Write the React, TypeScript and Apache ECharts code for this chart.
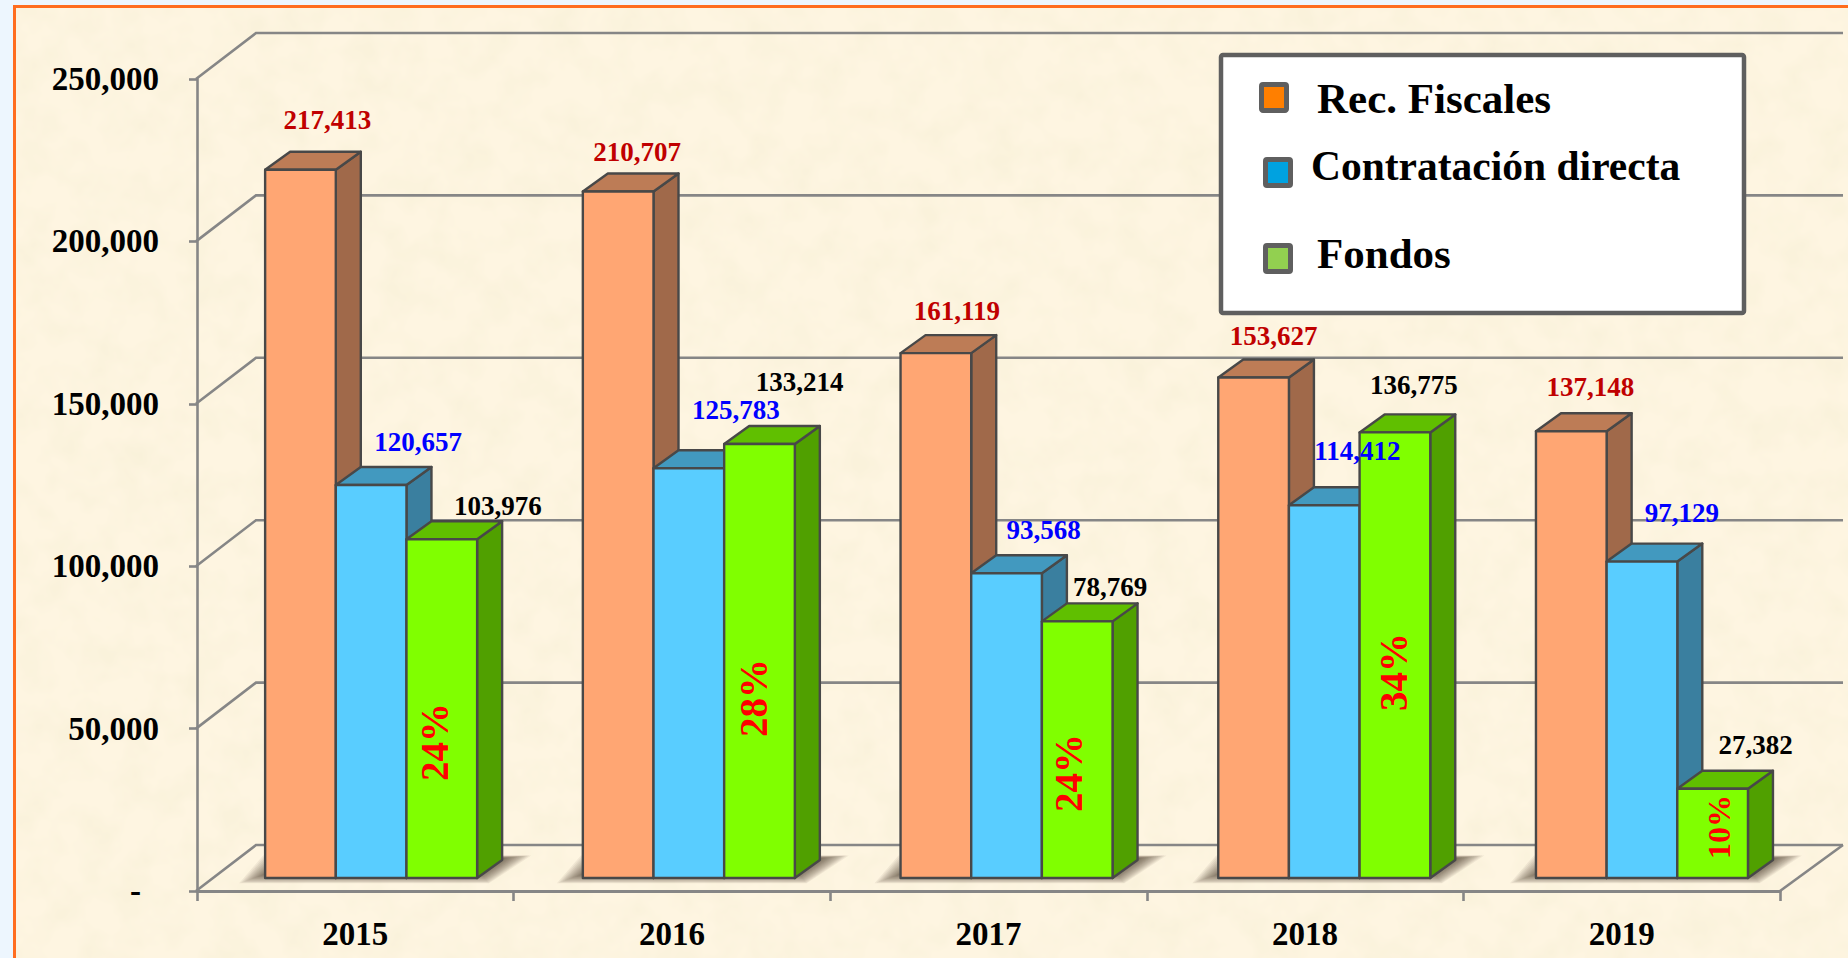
import React, { useEffect, useRef } from "react";
import * as echarts from "echarts";

const years = ["2015", "2016", "2017", "2018", "2019"];
const seriesNames = ["Rec. Fiscales", "Contratación directa", "Fondos"];
const recFiscales = [217413, 210707, 161119, 153627, 137148];
const contratacion = [120657, 125783, 93568, 114412, 97129];
const fondos = [103976, 133214, 78769, 136775, 27382];
const fondosPct = ["24%", "28%", "24%", "34%", "10%"];
const yTicks = [0, 50000, 100000, 150000, 200000, 250000];
const yTickLabels = ["-", "50,000", "100,000", "150,000", "200,000", "250,000"];

// label placement relative to bar-front centre / bar top
const recLabelOffsets = [[27, -50], [19, -40], [21, -42], [20, -42], [19, -44]];
const conLabelOffsets = [[47, -43], [47, -58], [37, -43], [33, -54], [40, -49]];
const fonLabelOffsets = [[56, -33], [40, -62], [33, -34], [19, -47], [43, -44]];
const pctCenters = [[-7, 742], [-6, 698], [-9, 773], [-1, 672], [6, 827]];
const pctSizes = [39, 39, 39, 39, 32];

const SERIF = '"Liberation Serif", "DejaVu Serif", serif';
const GRID_GRAY = "#868686";
const EDGE = "#484848";
const DX = 25, DY = -18;
const BACK_X = 59, BACK_Y = -46;
const BASE_LIFT = 13;
const BAR_SCALE = 1.003;

const palettes = [
  { front: "#ffa673", top: "#bd7c56", side: "#a0694a", label: "#c00000" },
  { front: "#59cdff", top: "#4299bf", side: "#3a7f9f", label: "#0000ff" },
  { front: "#80ff00", top: "#60bf00", side: "#50a000", label: "#000000" },
];
const legendFills = ["#ff7f00", "#00a2e0", "#92d050"];
const legendSwatches = [[1259, 82], [1263, 157], [1263, 243]];
const legendTexts = [[1317, 98], [1311, 166], [1317, 253]];
const legendFontSizes = [43, 41.5, 43];
const shadowLayers = [26, 24, 22, 20, 18, 16, 14, 12, 10, 8, 6, 4, 2, 0];

const texture =
  "data:image/svg+xml," +
  encodeURIComponent(
    `<svg xmlns="http://www.w3.org/2000/svg" width="1848" height="958"><filter id="n" x="0" y="0" width="100%" height="100%"><feTurbulence type="fractalNoise" baseFrequency="0.03" numOctaves="3" seed="7"/><feColorMatrix values="0 0 0 0 0.93  0 0 0 0 0.87  0 0 0 0 0.68  1.3 0 0 0 -0.48"/></filter><rect width="1848" height="958" fill="#fef5e1"/><rect width="1848" height="958" filter="url(#n)"/></svg>`
  );

function barGeom(api: any, seriesIndex: number) {
  const cat = api.value(0);
  const val = api.value(1);
  const size = api.size([1, 0])[0];
  const w = size * 0.2232;
  const base = api.coord([cat, 0]);
  const topPt = api.coord([cat, val]);
  const groupLeft = base[0] + size * (0.05 + cat * 0.0035) - 1.5 * w;
  const x0 = groupLeft + seriesIndex * w;
  const x1 = x0 + w;
  const y1 = base[1] - BASE_LIFT;
  const y0 = y1 - (base[1] - topPt[1]) * BAR_SCALE;
  return { x0, x1, y0, y1, val };
}

function barRenderer(seriesIndex: number) {
  const pal = palettes[seriesIndex];
  return (_params: any, api: any) => {
    const { x0, x1, y0, y1 } = barGeom(api, seriesIndex);
    const common = { stroke: EDGE, lineWidth: 2.4, lineJoin: "round" };
    return {
      type: "group",
      children: [
        {
          type: "polygon",
          silent: true,
          shape: { points: [[x1, y0], [x1 + DX, y0 + DY], [x1 + DX, y1 + DY], [x1, y1]] },
          style: { fill: pal.side, ...common },
        },
        {
          type: "polygon",
          silent: true,
          shape: { points: [[x0, y0], [x0 + DX, y0 + DY], [x1 + DX, y0 + DY], [x1, y0]] },
          style: { fill: pal.top, ...common },
        },
        {
          type: "polygon",
          silent: true,
          shape: { points: [[x0, y0], [x1, y0], [x1, y1], [x0, y1]] },
          style: { fill: pal.front, ...common },
        },
      ],
    };
  };
}

function labelRenderer(seriesIndex: number, offsets: number[][]) {
  const pal = palettes[seriesIndex];
  return (params: any, api: any) => {
    const { x0, x1, y0, val } = barGeom(api, seriesIndex);
    const off = offsets[params.dataIndex];
    const children: any[] = [
      {
        type: "text",
        silent: true,
        x: (x0 + x1) / 2 + off[0],
        y: y0 + off[1],
        style: {
          text: val.toLocaleString("en-US"),
          fill: pal.label,
          font: `bold 27px ${SERIF}`,
          textAlign: "center",
          textVerticalAlign: "middle",
        },
      },
    ];
    if (seriesIndex === 2) {
      const pc = pctCenters[params.dataIndex];
      children.push({
        type: "text",
        silent: true,
        x: (x0 + x1) / 2 + pc[0],
        y: pc[1],
        rotation: Math.PI / 2,
        style: {
          text: fondosPct[params.dataIndex],
          fill: "#ff0000",
          font: `bold ${pctSizes[params.dataIndex]}px ${SERIF}`,
          textAlign: "center",
          textVerticalAlign: "middle",
        },
      });
    }
    return { type: "group", children };
  };
}

function wallRenderer(params: any, api: any) {
  const v = api.value(1);
  const p = api.coord([0, v]);
  const xL = params.coordSys.x;
  const xR = xL + params.coordSys.width;
  const y = p[1];
  const children: any[] = [
    {
      type: "polyline",
      silent: true,
      shape: { points: [[xL - 1, y], [xL + BACK_X, y + BACK_Y], [xR + BACK_X + 4, y + BACK_Y]] },
      style: { fill: "none", stroke: GRID_GRAY, lineWidth: 2.6 },
    },
  ];
  if (v === 0) {
    children.push({
      type: "line",
      silent: true,
      shape: { x1: xR, y1: y, x2: xR + BACK_X + 4, y2: y + BACK_Y },
      style: { stroke: GRID_GRAY, lineWidth: 2.6 },
    });
  }
  return { type: "group", children };
}

function shadowRenderer(_params: any, api: any) {
  const { x0, x1, y1 } = barGeom(api, 0);
  const w = x1 - x0;
  const left = x0;
  const right = x0 + 3 * w;
  const y = y1;
  return {
    type: "group",
    children: shadowLayers.map((g) => ({
      type: "polygon",
      silent: true,
      shape: {
        points: [
          [left - g, y - 4 + g * 0.36],
          [right + 4 + g * 0.3, y - 4 + g * 0.36],
          [right + 28 + g, y - 20 - g * 0.1],
          [left + 24 - g, y - 20 - g * 0.1],
        ],
      },
      style: { fill: "rgba(58,48,34,0.065)" },
    })),
  };
}

export default function App() {
  const ref = useRef<HTMLDivElement>(null);
  useEffect(() => {
    const chart = echarts.init(ref.current!, undefined, { renderer: "svg" });
    const catData = (vals: number[]) => vals.map((v, i) => [i, v]);
    const legendGraphics: any[] = [
      {
        type: "rect",
        z: 100,
        shape: { x: 1221, y: 55, width: 523, height: 258, r: 2 },
        style: { fill: "#ffffff", stroke: "#5f5f5f", lineWidth: 4.5 },
      },
    ];
    seriesNames.forEach((name, i) => {
      legendGraphics.push({
        type: "rect",
        z: 101,
        shape: { x: legendSwatches[i][0] + 2.5, y: legendSwatches[i][1] + 2.5, width: 25, height: 26, r: 1.5 },
        style: { fill: legendFills[i], stroke: "#5f5f5f", lineWidth: 5 },
      });
      legendGraphics.push({
        type: "text",
        z: 101,
        x: legendTexts[i][0],
        y: legendTexts[i][1],
        style: {
          text: name,
          fill: "#000000",
          font: `bold ${legendFontSizes[i]}px ${SERIF}`,
          textAlign: "left",
          textVerticalAlign: "middle",
        },
      });
    });
    const seriesValues = [recFiscales, contratacion, fondos];
    const labelOffsets = [recLabelOffsets, conLabelOffsets, fonLabelOffsets];
    chart.setOption({
      animation: false,
      backgroundColor: "transparent",
      grid: { left: 197, right: 68, top: 79, bottom: 67, containLabel: false },
      xAxis: {
        type: "category",
        data: years,
        boundaryGap: true,
        axisLine: { lineStyle: { color: GRID_GRAY, width: 2.8 } },
        axisTick: { show: true, length: 10, alignWithLabel: false, lineStyle: { color: GRID_GRAY, width: 2.6 } },
        axisLabel: { color: "#000", fontFamily: SERIF, fontWeight: "bold", fontSize: 33, margin: 26, interval: 0 },
      },
      yAxis: {
        type: "value",
        min: 0,
        max: 250000,
        interval: 50000,
        splitLine: { show: false },
        axisLine: { show: true, lineStyle: { color: GRID_GRAY, width: 2.6 } },
        axisTick: { show: true, length: 8, lineStyle: { color: GRID_GRAY, width: 2.6 } },
        axisLabel: {
          color: "#000",
          fontFamily: SERIF,
          fontWeight: "bold",
          fontSize: 33,
          margin: 38,
          formatter: (v: number) => {
            const i = yTicks.indexOf(v);
            return i === 0 ? `{dash|${yTickLabels[0]}}` : yTickLabels[i];
          },
          rich: {
            dash: {
              color: "#000",
              fontFamily: SERIF,
              fontWeight: "bold",
              fontSize: 33,
              padding: [0, 18, 0, 0],
            },
          },
        },
      },
      graphic: legendGraphics,
      series: [
        {
          type: "custom",
          name: "wall",
          z: 1,
          silent: true,
          renderItem: wallRenderer,
          data: yTicks.map((v) => [0, v]),
          encode: { x: 0, y: 1 },
          clip: false,
        },
        {
          type: "custom",
          name: "shadow",
          z: 2,
          silent: true,
          renderItem: shadowRenderer,
          data: years.map((_, i) => [i, 0]),
          encode: { x: 0, y: 1 },
          clip: false,
        },
        ...seriesNames.map((name, i) => ({
          type: "custom",
          name,
          z: 3 + i,
          silent: true,
          renderItem: barRenderer(i),
          data: catData(seriesValues[i]),
          encode: { x: 0, y: 1 },
          clip: false,
        })),
        ...seriesNames.map((name, i) => ({
          type: "custom",
          name: name + " etiquetas",
          z: 10,
          silent: true,
          renderItem: labelRenderer(i, labelOffsets[i]),
          data: catData(seriesValues[i]),
          encode: { x: 0, y: 1 },
          clip: false,
        })),
      ],
    });
    return () => chart.dispose();
  }, []);

  return (
    <div style={{ position: "fixed", left: 0, top: 0, width: 1848, height: 958, overflow: "hidden", background: "#edf6fe" }}>
      <div
        style={{
          position: "absolute",
          left: 12.5,
          top: 5,
          width: 1848,
          height: 958,
          boxSizing: "border-box",
          borderLeft: "3px solid #ff6d1f",
          borderTop: "3px solid #ff6d1f",
          backgroundImage: `url("${texture}")`,
        }}
      />
      <div ref={ref} style={{ position: "absolute", left: 0, top: 0, width: 1848, height: 958 }} />
    </div>
  );
}
